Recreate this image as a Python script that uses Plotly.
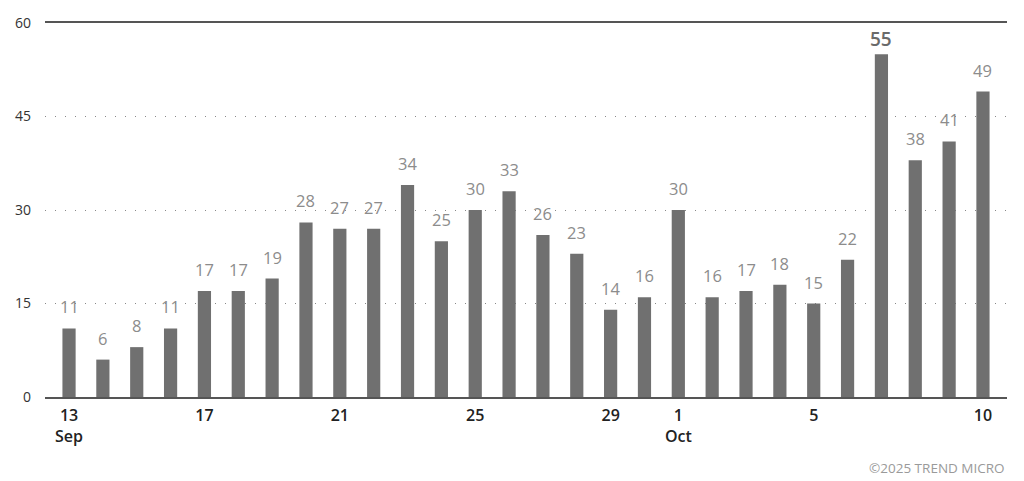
import plotly.graph_objects as go

days = ['2025-09-%02d' % d for d in range(13, 31)] + ['2025-10-%02d' % d for d in range(1, 11)]
counts = [11, 6, 8, 11, 17, 17, 19, 28, 27, 27, 34, 25, 30, 33, 26, 23, 14, 16,
          30, 16, 17, 18, 15, 22, 55, 38, 41, 49]
tick_days = ['2025-09-13', '2025-09-17', '2025-09-21', '2025-09-25', '2025-09-29',
             '2025-10-01', '2025-10-05', '2025-10-10']
tick_text = ['13<br>Sep', '17', '21', '25', '29', '1<br>Oct', '5', '10']
y_ticks = [0, 15, 30, 45, 60]

peak = max(counts)
FONT = 'Open Sans'

fig = go.Figure()
fig.add_trace(go.Bar(x=days, y=counts, marker=dict(color='#707070', line=dict(width=0)),
                     hoverinfo='x+y'))

# value labels above bars, biggest one emphasised
annotations = []
for d, v in zip(days, counts):
    big = v == peak
    annotations.append(dict(
        x=d, y=v, xref='x', yref='y', yanchor='bottom', yshift=8 if not big else 0,
        text=str(v), showarrow=False,
        font=dict(size=16.5 if not big else 19, color='#6a6a6a' if big else '#8c8c8c',
                  family=FONT, weight=600 if big else 400)
    ))
annotations.append(dict(
    x=1, y=0, xref='paper', yref='paper', xanchor='right', yanchor='top', yshift=-60,
    text='©2025 TREND MICRO', showarrow=False,
    font=dict(size=13.5, color='#9a9a9a', family=FONT)
))

# page body has an 8px margin, so the figure is sized to end at the window edge
fig.update_layout(
    width=1016, height=473,
    paper_bgcolor='white', plot_bgcolor='white',
    margin=dict(l=37, r=17, t=15, b=84),
    bargap=0.61,
    showlegend=False,
    font=dict(family=FONT, color='#333'),
    annotations=annotations,
    xaxis=dict(type='category', range=[-0.71, len(days) - 0.29], automargin=False,
               tickmode='array', tickvals=tick_days, ticktext=tick_text,
               tickfont=dict(size=16, color='#222', weight=600),
               showline=True, linecolor='#555', linewidth=2, mirror=True,
               showgrid=False, ticks='', ticklabelstandoff=3),
    yaxis=dict(range=[0, 60], tickmode='array', tickvals=y_ticks, automargin=False,
               tickfont=dict(size=14, color='#333'),
               showgrid=True, gridcolor='#888', gridwidth=1, griddash='1px,9px',
               zeroline=False, ticks='', ticklabelstandoff=13),
)

fig.write_html('out.html')
